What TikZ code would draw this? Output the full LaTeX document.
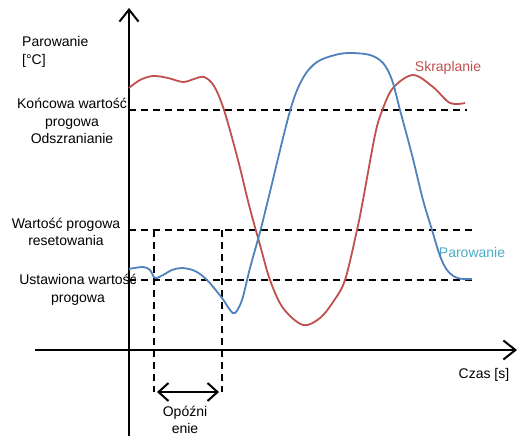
\documentclass[tikz,border=0pt]{standalone}
\usepackage{fontspec}
\setmainfont{Liberation Sans}
\usetikzlibrary{arrows.meta}
\definecolor{skred}{HTML}{C0504D}
\definecolor{parblue}{HTML}{4F81BD}
\definecolor{parlabel}{HTML}{4BACC6}

\begin{document}
\begin{tikzpicture}[x=1pt,y=-1pt,
    font=\fontsize{14}{17.5}\selectfont,
    axis/.style={line width=2pt,-{Straight Barb[length=12pt,width=19pt,line width=2pt]}},
    limit/.style={line width=1.6pt,dash pattern=on 7pt off 5pt},
    span/.style={line width=2pt,{Straight Barb[length=10pt,width=18pt,line width=2pt]}-{Straight Barb[length=10pt,width=18pt,line width=2pt]}},
    lbl/.style={align=center,inner sep=0pt}]
    \useasboundingbox (0,0) rectangle (518,436);

    % Nodes
    \coordinate (y0) at (129,436);
    \coordinate (y1) at (129,8);
    \coordinate (x0) at (35,350);
    \coordinate (x1) at (517,350);

    \coordinate (a0) at (129,110);
    \coordinate (a1) at (467,110);
    \coordinate (b0) at (129,230);
    \coordinate (b1) at (472,230);
    \coordinate (c0) at (129,280);
    \coordinate (c1) at (472,280);

    \coordinate (d0) at (154,230);
    \coordinate (d1) at (154,392);
    \coordinate (e0) at (222,230);
    \coordinate (e1) at (222,392);

    \node[lbl, align=left, anchor=west] (t0) at (22,52) {Parowanie\\{}[°C]};
    \node[lbl] (t1) at (72,121) {Końcowa wartość\\progowa\\Odszranianie};
    \node[lbl] (t2) at (66,232) {Wartość progowa\\resetowania};
    \node[lbl] (t3) at (78,290) {Ustawiona wartość\\progowa};
    \node[lbl] (t4) at (185,420) {Opóźni\\enie};
    \node[lbl] (t5) at (484,375) {Czas [s]};
    \node[lbl, text=skred] (t6) at (448,68) {Skraplanie};
    \node[lbl, text=parlabel] (t7) at (472,252) {Parowanie};

    % Lines
    \draw[limit] (a0) -- (a1);
    \draw[limit] (b0) -- (b1);
    \draw[limit] (c0) -- (c1);
    \draw[limit] (d0) -- (d1);
    \draw[limit] (e0) -- (e1);

    \draw[axis] (y0) -- (y1);
    \draw[axis] (x0) -- (x1);
    \draw[span] ([xshift=3pt]d1) -- ([xshift=-3pt]e1);

    % Curves
    \draw[skred, line width=1.8pt] plot[smooth, tension=0.55] coordinates {
        (129,88) (140,80) (153,76) (168,78) (183,82) (194,79) (204,77) (214,86)
        (224,110) (238,160) (249,205) (260,245) (270,280) (283,308) (303,325)
        (320,318) (333,302) (345,280) (357,230) (363,200) (375,135) (382,111)
        (393,88) (413,75) (433,87) (450,103) (465,103)};
    \draw[parblue, line width=1.8pt] plot[smooth, tension=0.55] coordinates {
        (129,269) (143,267) (150,270) (155,278) (163,275) (172,270) (182,268)
        (195,271) (207,280) (222,298) (230,310) (235,313) (242,300) (250,268)
        (260,232) (268,200) (290,111) (303,78) (317,62) (335,55) (350,53)
        (370,55) (383,63) (392,80) (400,110) (412,155) (423,200) (432,230)
        (440,256) (447,270) (455,277) (463,279) (472,279)};
\end{tikzpicture}
\end{document}
